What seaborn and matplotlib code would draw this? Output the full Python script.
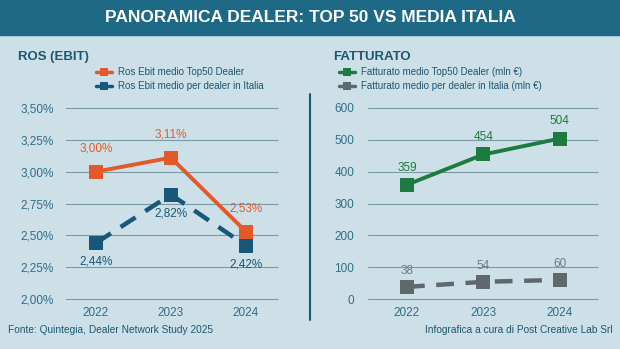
import matplotlib
matplotlib.use("Agg")
import matplotlib.pyplot as plt
from matplotlib.lines import Line2D
import seaborn as sns
import pandas as pd

# --- data ---
years = [2022, 2023, 2024]
ros_top50 = [3.00, 3.11, 2.53]
ros_italia = [2.44, 2.82, 2.42]
fatt_top50 = [359, 454, 504]
fatt_italia = [38, 54, 60]
ros_ticks = [2.00, 2.25, 2.50, 2.75, 3.00, 3.25, 3.50]
fatt_ticks = [0, 100, 200, 300, 400, 500, 600]

BG = "#cde0e8"
HEADER = "#1e6986"
TEXT = "#1d5672"
TICK = "#2f6d88"
GRID = "#7b9aa8"
ORANGE = "#e35a2a"
TEAL = "#17587a"
GREEN = "#1e7b3f"
GRAY = "#5e686d"
GRAY_LBL = "#6f7a80"

sns.set_theme(style="white")
plt.rcParams["font.family"] = ["Liberation Sans", "DejaVu Sans"]

W, H = 620, 349
fig = plt.figure(figsize=(W / 100, H / 100), dpi=100, facecolor=BG)

def fx(px):
    return px / W

def fy(py):
    return 1 - py / H

# header band
fig.patches.append(plt.Rectangle((0, fy(35)), 1, 35 / H, transform=fig.transFigure,
                                 color=HEADER, zorder=0))
fig.text(0.5, fy(17.5), "PANORAMICA DEALER: TOP 50 VS MEDIA ITALIA", color="white",
         fontsize=12.5, fontweight="bold", ha="center", va="center")

# divider between panels
fig.add_artist(Line2D([fx(310), fx(310)], [fy(94), fy(320)], transform=fig.transFigure,
                      color=TEAL, lw=1.5))

fig.text(fx(18), fy(57), "ROS (EBIT)", color=TEXT, fontsize=9.5, fontweight="bold",
         ha="left", va="center")
fig.text(fx(333), fy(57), "FATTURATO", color=TEXT, fontsize=9.5, fontweight="bold",
         ha="left", va="center")

fig.text(fx(8), fy(330), "Fonte: Quintegia, Dealer Network Study 2025", color=TEXT,
         fontsize=7.3, ha="left", va="center")
fig.text(fx(613), fy(330), "Infografica a cura di Post Creative Lab Srl", color=TEXT,
         fontsize=7.3, ha="right", va="center")

ax1 = fig.add_axes([fx(66), fy(299), fx(278 - 66), (299 - 108) / H])
ax2 = fig.add_axes([fx(368), fy(299), fx(598 - 368), (299 - 108) / H])

df_ros = pd.DataFrame({"anno": years * 2,
                       "valore": ros_top50 + ros_italia,
                       "serie": ["top"] * 3 + ["ita"] * 3})
df_fatt = pd.DataFrame({"anno": years * 2,
                        "valore": fatt_top50 + fatt_italia,
                        "serie": ["top"] * 3 + ["ita"] * 3})

def draw_panel(ax, df, c_top, c_ita, dash):
    sns.lineplot(data=df[df.serie == "top"], x="anno", y="valore", ax=ax, color=c_top,
                 lw=2.8, marker="s", markersize=10.5, markeredgewidth=0, zorder=4)
    sns.lineplot(data=df[df.serie == "ita"], x="anno", y="valore", ax=ax, color=c_ita,
                 lw=3.2, marker="s", markersize=10.5, markeredgewidth=0, zorder=3)
    ax.lines[-1].set_dashes(dash)
    ax.set_facecolor(BG)
    for s in ax.spines.values():
        s.set_visible(False)
    ax.grid(axis="y", color=GRID, lw=0.8)
    ax.set_axisbelow(True)
    ax.set_xlabel("")
    ax.set_ylabel("")
    ax.set_xticks(years)
    ax.set_xticklabels([str(y) for y in years])
    ax.tick_params(axis="both", colors=TICK, labelsize=8.5, length=0, pad=6)

def unclip_grid(ax):
    for gl in ax.get_ygridlines():
        gl.set_clip_on(False)

# ROS panel
draw_panel(ax1, df_ros, ORANGE, TEAL, (4, 2.6))
ax1.set_xlim(2021.6, 2024.43)
ax1.set_ylim(2.0, 3.5)
ax1.set_yticks(ros_ticks)
ax1.set_yticklabels([f"{t:.2f}%".replace(".", ",") for t in ros_ticks])
ax1.tick_params(axis="y", pad=9)
unclip_grid(ax1)
for x, v in zip(years, ros_top50):
    ax1.annotate(f"{v:.2f}%".replace(".", ","), (x, v), xytext=(0, 12),
                 textcoords="offset points", ha="center", va="bottom",
                 color=ORANGE, fontsize=8.5)
for x, v in zip(years, ros_italia):
    ax1.annotate(f"{v:.2f}%".replace(".", ","), (x, v), xytext=(0, -9),
                 textcoords="offset points", ha="center", va="top",
                 color=TEAL, fontsize=8.5)

# Fatturato panel
draw_panel(ax2, df_fatt, GREEN, GRAY, (4, 2.6))
ax2.set_xlim(2021.49, 2024.5)
ax2.set_ylim(0, 600)
ax2.set_yticks(fatt_ticks)
ax2.set_yticklabels([str(t) for t in fatt_ticks])
ax2.tick_params(axis="y", pad=10)
unclip_grid(ax2)
for x, v in zip(years, fatt_top50):
    ax2.annotate(str(v), (x, v), xytext=(0, 8), textcoords="offset points",
                 ha="center", va="bottom", color=GREEN, fontsize=8.5)
for x, v in zip(years, fatt_italia):
    ax2.annotate(str(v), (x, v), xytext=(0, 7), textcoords="offset points",
                 ha="center", va="bottom", color=GRAY_LBL, fontsize=8.5)

# legends
def legend_row(x_px, y_px, color, label):
    fig.add_artist(Line2D([fx(x_px), fx(x_px + 16)], [fy(y_px), fy(y_px)],
                          transform=fig.transFigure, color=color, lw=2.5))
    fig.add_artist(Line2D([fx(x_px + 8)], [fy(y_px)], transform=fig.transFigure,
                          color=color, marker="s", markersize=5.5, markeredgewidth=0))
    fig.text(fx(x_px + 22), fy(y_px), label, color=TEXT, fontsize=7,
             ha="left", va="center")

legend_row(96, 72, ORANGE, "Ros Ebit medio Top50 Dealer")
legend_row(96, 86, TEAL, "Ros Ebit medio per dealer in Italia")
legend_row(339, 72, GREEN, "Fatturato medio Top50 Dealer (mln €)")
legend_row(339, 86, GRAY, "Fatturato medio per dealer in Italia (mln €)")

fig.savefig("out.png", dpi=100, facecolor=BG)
